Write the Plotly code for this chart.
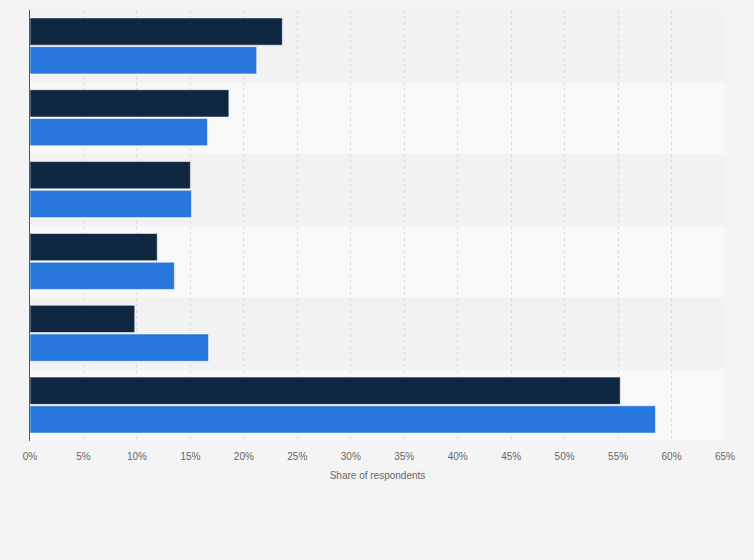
import plotly.graph_objects as go

categories = ["Category 1", "Category 2", "Category 3", "Category 4", "Category 5", "Category 6"]
series_a = [23.6, 18.6, 15.0, 11.9, 9.8, 55.2]
series_b = [21.2, 16.6, 15.1, 13.5, 16.7, 58.5]
tick_vals = list(range(0, 70, 5))
tick_text = [f"{v}%" for v in tick_vals]

fig = go.Figure()
fig.add_trace(go.Bar(
    y=categories, x=series_a, orientation="h", name="Series 1",
    marker=dict(color="#0f2740", line=dict(color="rgba(255,255,255,0.55)", width=1)),
))
fig.add_trace(go.Bar(
    y=categories, x=series_b, orientation="h", name="Series 2",
    marker=dict(color="#2676db", line=dict(color="rgba(255,255,255,0.55)", width=1)),
))

shapes = []
for i in range(len(categories)):
    shapes.append(dict(
        type="rect", xref="x domain", yref="y", x0=0, x1=1,
        y0=i - 0.5, y1=i + 0.5, layer="below", line=dict(width=0),
        fillcolor="#f2f2f2" if i % 2 == 0 else "#f8f8f8",
    ))

fig.update_layout(
    width=754, height=560,
    margin=dict(l=30, r=29, t=10, b=119),
    paper_bgcolor="#f4f4f4", plot_bgcolor="#f4f4f4",
    barmode="group", bargap=0.2, bargroupgap=0.05,
    showlegend=False,
    shapes=shapes,
    font=dict(family="Liberation Sans, Arial, sans-serif", size=10, color="#666666"),
    xaxis=dict(
        range=[0, 65], tickvals=tick_vals, ticktext=tick_text,
        showgrid=True, gridcolor="#dcdcdc", griddash="dot", gridwidth=1,
        zeroline=False, showline=False, ticks="", ticklabelstandoff=8,
        tickfont=dict(size=10, color="#666666"),
        title=dict(text="Share of respondents", font=dict(size=10, color="#666666"), standoff=10),
    ),
    yaxis=dict(
        autorange="reversed", showticklabels=False, showgrid=False,
        showline=True, linecolor="#555555", linewidth=1, ticks="", zeroline=False,
    ),
)

fig.write_html(
    "out.html",
    config={"displayModeBar": False},
    post_script="document.body.style.margin='0';document.body.style.background='#f4f4f4';",
)
